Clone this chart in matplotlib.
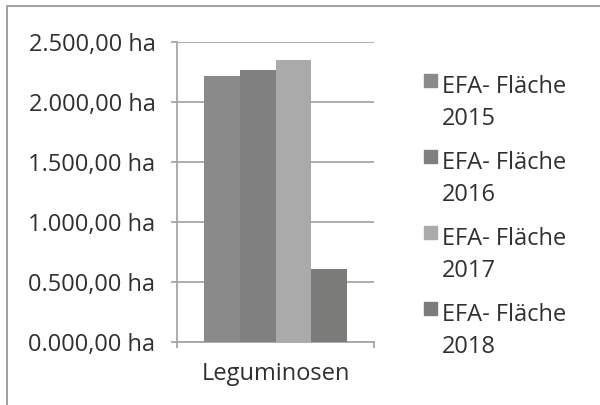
import matplotlib.pyplot as plt
from matplotlib.patches import Rectangle
from matplotlib.lines import Line2D

# =========================
# Data
# =========================
category = "Leguminosen"
years = ["2015", "2016", "2017", "2018"]
areas = [2217, 2267, 2350, 608]
bar_colors = ["#8a8a8a", "#808080", "#aaaaaa", "#7b7b79"]
y_ticks = [0, 500, 1000, 1500, 2000, 2500]
y_tick_labels = ["0.000,00 ha", "0.500,00 ha", "1.000,00 ha",
                 "1.500,00 ha", "2.000,00 ha", "2.500,00 ha"]

plt.rcParams["font.family"] = ["Open Sans", "DejaVu Sans"]
text_color = "#303030"
grid_color = "#a6a6a6"
fs = 17

W, H = 600, 405

# =========================
# Figure
# =========================
fig = plt.figure(figsize=(6, 4.05), dpi=100)
# chart frame: only left and top edges visible
fig.lines.append(Line2D([6.5 / W, 6.5 / W, 1.0], [0.0, 1 - 6 / H, 1 - 6 / H],
                        transform=fig.transFigure, color="#a0a0a0", linewidth=1.4))
ax = fig.add_axes([177 / W, 63 / H, 197 / W, 300 / H])

width = 0.1827
for i, (yr, val, col) in enumerate(zip(years, areas, bar_colors)):
    ax.bar((i - 1.5) * width, val, width=width, color=col, zorder=3)

ax.set_xlim(-0.5, 0.5)
ax.set_ylim(0, 2500)
ax.set_yticks(y_ticks)
ax.set_yticklabels(y_tick_labels, fontsize=fs, color=text_color)
ax.yaxis.grid(True, color=grid_color, linewidth=1.3, zorder=0)
ax.tick_params(axis="y", length=4.5, width=1.3, color=grid_color, pad=11)

ax.set_xticks([-0.5, 0.5])
ax.set_xticklabels(["", ""])
ax.tick_params(axis="x", direction="out", length=4.5, width=1.3, color=grid_color)
ax.text(0.0, -38 / 300, category, transform=ax.get_xaxis_transform(),
        ha="center", va="baseline", fontsize=fs, color=text_color)

for side in ["top", "right"]:
    ax.spines[side].set_visible(False)
for side in ["left", "bottom"]:
    ax.spines[side].set_color(grid_color)
    ax.spines[side].set_linewidth(1.3)

# =========================
# Legend (manual, two-line labels)
# =========================
for i, (yr, col) in enumerate(zip(years, bar_colors)):
    sq_top = 74 + i * 76
    fig.patches.append(Rectangle((424 / W, 1 - (sq_top + 12.5) / H), 13 / W, 12.5 / H,
                                 transform=fig.transFigure, color=col))
    fig.text(442 / W, 1 - (sq_top + 19) / H, "EFA- Fläche", fontsize=fs,
             color=text_color, va="baseline", ha="left")
    fig.text(442 / W, 1 - (sq_top + 51) / H, yr, fontsize=fs,
             color=text_color, va="baseline", ha="left")

plt.savefig("out.png", dpi=100)
